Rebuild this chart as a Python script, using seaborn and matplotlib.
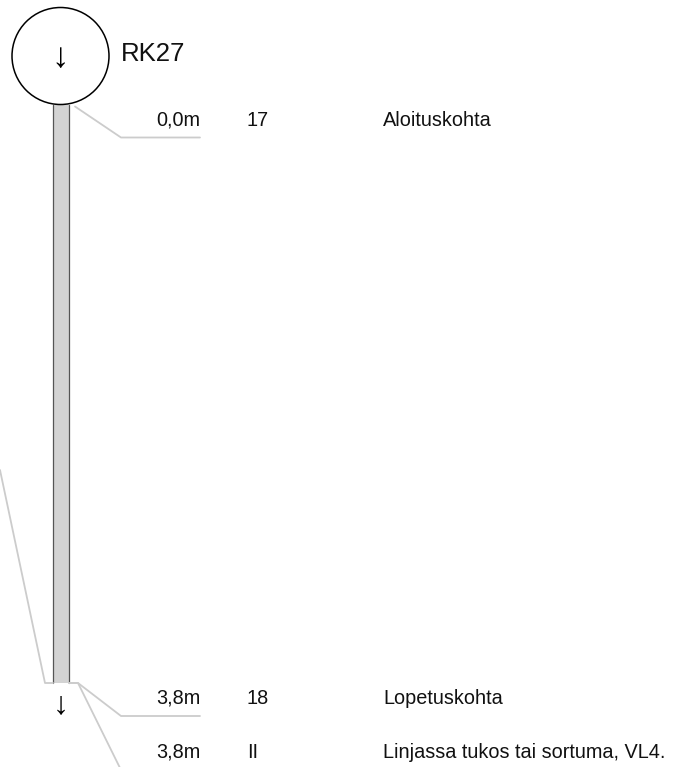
import seaborn as sns
import matplotlib.pyplot as plt
from matplotlib.patches import Circle, Rectangle

# inspection data
manhole = "RK27"
pipe_length_m = 3.8
station_m = [0.0, 3.8, 3.8]
codes = ["17", "18", "II"]
descriptions = ["Aloituskohta", "Lopetuskohta", "Linjassa tukos tai sortuma, VL4."]

sns.set_theme(style="white")
plt.rcParams['font.family'] = ['Liberation Sans', 'DejaVu Sans']

W, H = 675, 767
fig = plt.figure(figsize=(W / 100, H / 100), dpi=100)
ax = fig.add_axes([0, 0, 1, 1])
ax.set_xlim(0, W)
ax.set_ylim(H, 0)
ax.axis("off")

# layout (pixels)
cx, cy, r = 60.5, 56, 48.5
pipe_x0, pipe_x1 = 53, 69
pipe_top, pipe_bot = cy + r, 683
px_per_m = (pipe_bot - pipe_top) / pipe_length_m


def pipe_y(d):
    return pipe_top + d * px_per_m


line_col = "#cccccc"
txt_col = "#111111"
fs = 14.3

# pipe
ax.add_patch(Rectangle((pipe_x0, pipe_top), pipe_x1 - pipe_x0, pipe_y(pipe_length_m) - pipe_top,
                       facecolor="#d3d3d3", edgecolor="none", zorder=1))
ax.plot([pipe_x0, pipe_x0], [pipe_top, pipe_y(pipe_length_m)], color="#555555", lw=0.9, zorder=2)
ax.plot([pipe_x1, pipe_x1], [pipe_top, pipe_y(pipe_length_m)], color="#555555", lw=0.9, zorder=2)

# manhole
ax.add_patch(Circle((cx, cy), r, facecolor="white", edgecolor="black", lw=1.1, zorder=3))
ax.text(cx, cy + 1, "\u2193", ha="center", va="center", fontsize=25, color="black", zorder=4)
ax.text(121, cy + 5, manhole, ha="left", va="baseline", fontsize=18.5, color=txt_col)

# end arrow
ax.text(cx, pipe_y(pipe_length_m) + 22, "\u2193", ha="center", va="center", fontsize=23, color="black")

# left leader
sns.lineplot(x=[0, 45, pipe_x0], y=[470, pipe_y(pipe_length_m), pipe_y(pipe_length_m)],
             sort=False, color=line_col, lw=1.3, ax=ax)

# labels with leaders
prev = -1e9
for d, code, desc in zip(station_m, codes, descriptions):
    yl = max(pipe_y(d) + 33, prev + 54)
    prev = yl
    ys = pipe_y(d)
    if d == 0:
        xs, ys = 75, ys + 2
        pts_x, pts_y = [xs, 121, 200], [ys, yl, yl]
    else:
        pts_x, pts_y = [pipe_x1, 78, 121, 200], [ys, ys, yl, yl]
    sns.lineplot(x=pts_x, y=pts_y, sort=False, color=line_col, lw=1.3, ax=ax)
    base = yl - 12
    dist = f"{d:.1f}m".replace(".", ",")
    ax.text(200, base, dist, ha="right", va="baseline", fontsize=fs, color=txt_col)
    ax.text(247, base, code, ha="left", va="baseline", fontsize=fs, color=txt_col)
    ax.text(383, base, desc, ha="left", va="baseline", fontsize=fs, color=txt_col)

fig.savefig("out.png", dpi=100, facecolor="white")
